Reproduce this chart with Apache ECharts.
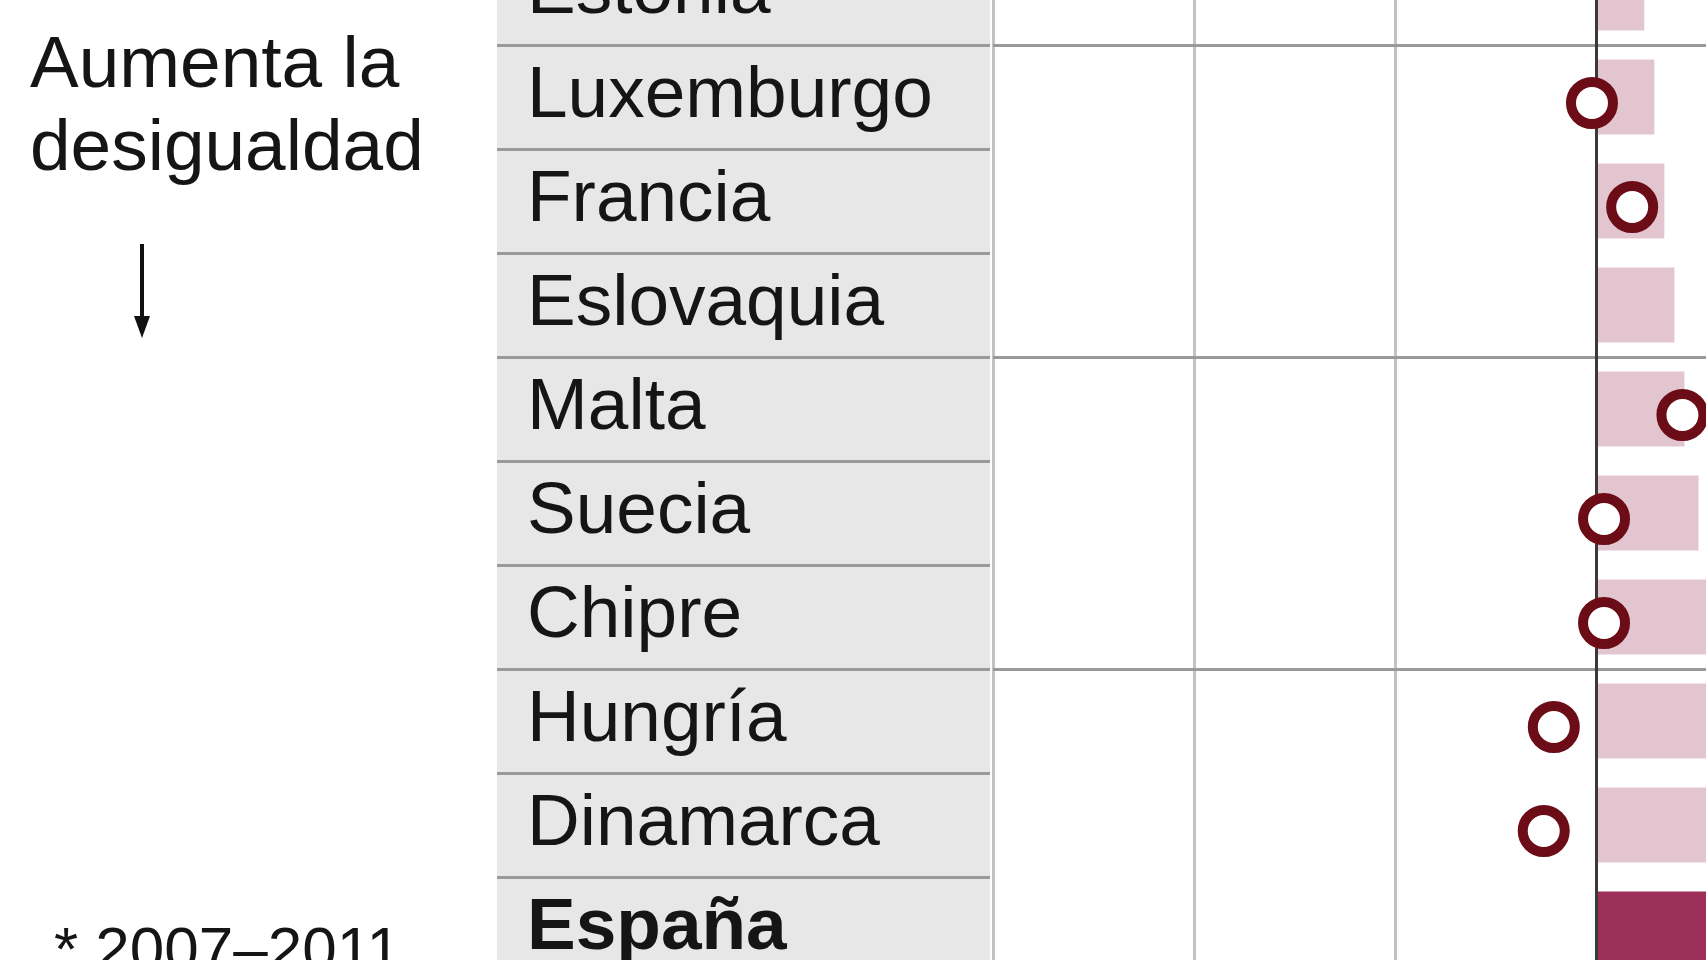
<!DOCTYPE html>
<html>
<head>
<meta charset="utf-8">
<script src="https://cdn.jsdelivr.net/npm/echarts@6/dist/echarts.min.js"></script>
<style>
  html, body { margin: 0; padding: 0; background: #fff; }
  #main { width: 1706px; height: 960px; }
</style>
</head>
<body>
<div id="main"></div>
<script>
// datos (recorte del gráfico)
var countries = ['Estonia', 'Luxemburgo', 'Francia', 'Eslovaquia', 'Malta', 'Suecia', 'Chipre', 'Hungría', 'Dinamarca', 'España'];
var barValues = [0.24, 0.29, 0.34, 0.39, 0.44, 0.51, 0.62, 0.70, 0.75, 0.95];
var circleValues = [null, -0.02, 0.18, null, 0.43, 0.04, 0.04, -0.21, -0.26, null];
var highlight = 'España';

var font = '"Liberation Sans", Arial, sans-serif';

chart1();

function chart1() {
    var circleData = [];
    countries.forEach(function (c, i) {
        if (circleValues[i] !== null) circleData.push([circleValues[i], c]);
    });

    var option = {
        animation: false,
        backgroundColor: '#fff',
        grid: [
            // zona de barras (se sale por arriba, abajo y derecha)
            { left: 993, top: -59, height: 1040, right: -91, outerBoundsMode: 'none', containLabel: false },
            // columna de etiquetas
            { left: 497, top: -59, height: 1040, width: 493, outerBoundsMode: 'none', containLabel: false }
        ],
        xAxis: [
            {
                type: 'value', gridIndex: 0,
                min: -3, max: 1, interval: 1,
                axisLabel: { show: false },
                axisLine: { show: false },
                axisTick: { show: false },
                splitLine: { show: true, lineStyle: { color: '#c2c2c2', width: 3 } }
            },
            {
                type: 'value', gridIndex: 1, show: false
            }
        ],
        yAxis: [
            {
                type: 'category', gridIndex: 0, inverse: true,
                data: countries,
                z: 3,
                axisLabel: { show: false },
                axisTick: { show: false },
                axisLine: { show: true, onZero: true, lineStyle: { color: '#3a3a3a', width: 3 } },
                splitLine: {
                    show: true,
                    interval: function (index) { return index % 3 === 1; },
                    lineStyle: { color: '#999', width: 3 }
                }
            },
            {
                type: 'category', gridIndex: 1, inverse: true,
                data: countries,
                axisTick: { show: false },
                axisLine: { show: false },
                splitArea: { show: true, areaStyle: { color: ['#e7e7e7'] } },
                splitLine: { show: true, interval: 0, lineStyle: { color: '#9a9a9a', width: 3 } },
                axisLabel: {
                    inside: true,
                    margin: 30,
                    interval: 0,
                    fontFamily: font,
                    fontSize: 73,
                    color: '#151515',
                    formatter: function (v) {
                        return v === highlight ? '{b|' + v + '}' : v;
                    },
                    rich: {
                        b: { fontFamily: font, fontSize: 73, fontWeight: 'bold', color: '#151515' }
                    }
                }
            }
        ],
        series: [
            {
                type: 'bar',
                xAxisIndex: 0, yAxisIndex: 0,
                barWidth: 75,
                z: 2,
                data: barValues.map(function (v, i) {
                    return {
                        value: v,
                        itemStyle: { color: countries[i] === highlight ? '#9c3058' : '#e3c5d0' }
                    };
                })
            },
            {
                type: 'scatter',
                xAxisIndex: 0, yAxisIndex: 0,
                z: 4,
                symbol: 'circle',
                symbolSize: 42,
                symbolOffset: [0, 6],
                itemStyle: { color: '#fff', borderColor: '#6b0c17', borderWidth: 10, opacity: 1 },
                data: circleData
            }
        ],
        graphic: [
            {
                type: 'text', left: 30, top: 30,
                style: { text: 'Aumenta la', font: '73px ' + font, fill: '#151515' }
            },
            {
                type: 'text', left: 30, top: 113,
                style: { text: 'desigualdad', font: '73px ' + font, fill: '#151515' }
            },
            {
                type: 'line',
                shape: { x1: 142, y1: 244, x2: 142, y2: 322 },
                style: { stroke: '#111', lineWidth: 4 }
            },
            {
                type: 'polygon',
                shape: { points: [[134, 316], [150, 316], [142, 338]] },
                style: { fill: '#111' }
            },
            {
                type: 'text', left: 54, top: 922,
                style: { text: '* 2007–2011', font: '62px ' + font, fill: '#151515' }
            }
        ]
    };
    var myChart = echarts.init(document.getElementById('main'));
    myChart.setOption(option);
}
</script>
</body>
</html>
